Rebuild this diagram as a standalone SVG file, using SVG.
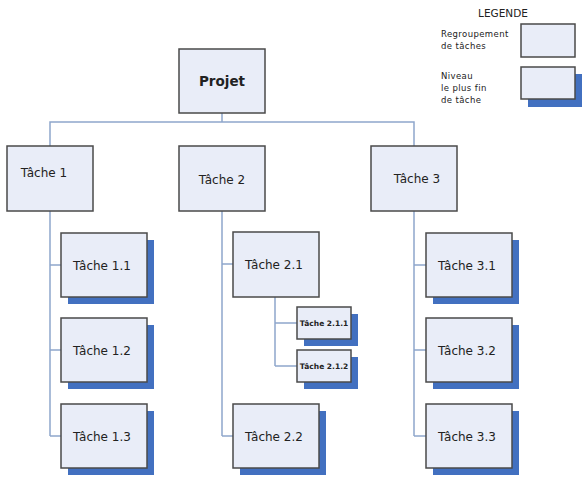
<svg xmlns="http://www.w3.org/2000/svg" width="585" height="480" viewBox="0 0 585 480">
<style>
.box{fill:#e9edf8;stroke:#4a4a4a;stroke-width:1.5}
.sh{fill:#4270c0}
.t{font-family:"DejaVu Sans",Verdana,sans-serif;font-size:12px;fill:#222;text-anchor:middle}
.ts{font-family:"DejaVu Sans",Verdana,sans-serif;font-size:7.5px;font-weight:bold;fill:#222;text-anchor:middle}
.tl{font-family:"DejaVu Sans",Verdana,sans-serif;font-size:8.5px;fill:#222;letter-spacing:0.4px}
.c{fill:none;stroke:#8ea6cc;stroke-width:1.5}
</style>
<rect width="585" height="480" fill="#fff"/>
<g id="connectors">
<path class="c" d="M222 112V122M50 146V122H414V146"/>
<path class="c" d="M50 211V436M50 265H61M50 350H61M50 436H61"/>
<path class="c" d="M222 211V436M222 264H233M222 436H233"/>
<path class="c" d="M275 297V366M275 323H297M275 366H297"/>
<path class="c" d="M414 211V436M414 265H426M414 350H426M414 436H426"/>
</g>
<g id="legend">
<text x="503" y="17" style="font-family:'DejaVu Sans',Verdana,sans-serif;font-size:10.5px;fill:#222;text-anchor:middle">LEGENDE</text>
<text class="tl" x="441" y="37">Regroupement</text>
<text class="tl" x="441" y="49">de tâches</text>
<rect class="box" x="521" y="24" width="54" height="33"/>
<text class="tl" x="441" y="79">Niveau</text>
<text class="tl" x="441" y="91">le plus fin</text>
<text class="tl" x="441" y="103">de tâche</text>
<rect class="sh" x="528" y="74" width="54" height="33"/>
<rect class="box" x="521" y="67" width="54" height="32"/>
</g>
<g id="projet">
<rect class="box" x="179" y="49" width="86" height="64"/>
<text x="222" y="86" style="font-family:'DejaVu Sans',Verdana,sans-serif;font-size:13.5px;font-weight:bold;fill:#222;text-anchor:middle">Projet</text>
</g>
<g id="t1"><rect class="box" x="7" y="146" width="86" height="65"/><text class="t" x="44" y="177">Tâche 1</text></g>
<g id="t2"><rect class="box" x="179" y="146" width="86" height="65"/><text class="t" x="222" y="184">Tâche 2</text></g>
<g id="t3"><rect class="box" x="371" y="146" width="86" height="65"/><text class="t" x="417" y="183">Tâche 3</text></g>
<g id="t11"><rect class="sh" x="68" y="240" width="86" height="64"/><rect class="box" x="61" y="233" width="86" height="64"/><text class="t" x="102" y="270">Tâche 1.1</text></g>
<g id="t12"><rect class="sh" x="68" y="325" width="86" height="64"/><rect class="box" x="61" y="318" width="86" height="64"/><text class="t" x="102" y="355">Tâche 1.2</text></g>
<g id="t13"><rect class="sh" x="68" y="411" width="86" height="64"/><rect class="box" x="61" y="404" width="86" height="64"/><text class="t" x="102" y="441">Tâche 1.3</text></g>
<g id="t21"><rect class="box" x="233" y="232" width="86" height="65"/><text class="t" x="274" y="269">Tâche 2.1</text></g>
<g id="t211"><rect class="sh" x="304" y="314" width="54" height="32"/><rect class="box" x="297" y="307" width="54" height="32"/><text class="ts" x="324" y="326">Tâche 2.1.1</text></g>
<g id="t212"><rect class="sh" x="304" y="357" width="54" height="32"/><rect class="box" x="297" y="350" width="54" height="32"/><text class="ts" x="324" y="369">Tâche 2.1.2</text></g>
<g id="t22"><rect class="sh" x="240" y="411" width="86" height="64"/><rect class="box" x="233" y="404" width="86" height="64"/><text class="t" x="274" y="441">Tâche 2.2</text></g>
<g id="t31"><rect class="sh" x="433" y="240" width="86" height="64"/><rect class="box" x="426" y="233" width="86" height="64"/><text class="t" x="467" y="270">Tâche 3.1</text></g>
<g id="t32"><rect class="sh" x="433" y="325" width="86" height="64"/><rect class="box" x="426" y="318" width="86" height="64"/><text class="t" x="467" y="355">Tâche 3.2</text></g>
<g id="t33"><rect class="sh" x="433" y="411" width="86" height="64"/><rect class="box" x="426" y="404" width="86" height="64"/><text class="t" x="467" y="441">Tâche 3.3</text></g>
</svg>
